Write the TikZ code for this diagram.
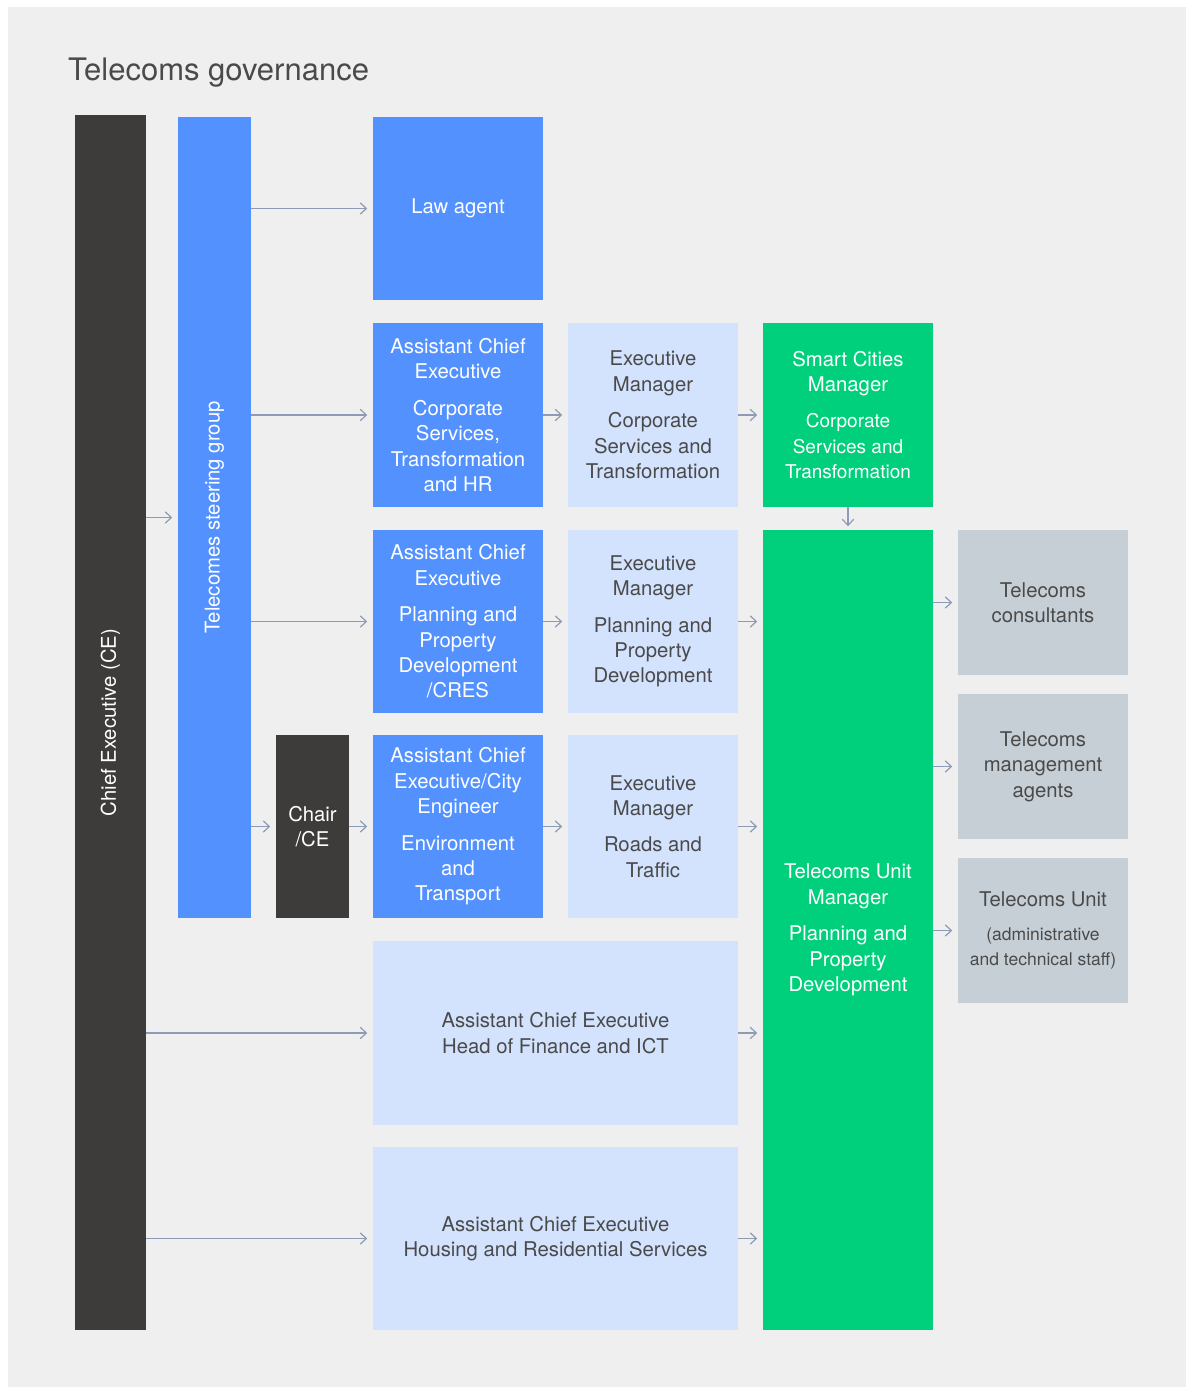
\documentclass[tikz,border=0pt]{standalone}
\usepackage{fontspec}
\setmainfont{TeX Gyre Heros}
\usetikzlibrary{arrows.meta}

\definecolor{pagebg}{HTML}{EFEFEF}
\definecolor{ink}{HTML}{3D3C3A}
\definecolor{accblue}{HTML}{5391FF}
\definecolor{paleblue}{HTML}{D3E2FD}
\definecolor{accgreen}{HTML}{00D07B}
\definecolor{stone}{HTML}{C7CFD6}
\definecolor{wire}{HTML}{8E9BB4}
\definecolor{txt}{HTML}{4A4A4A}

\tikzset{
  panel/.style={draw=none, inner sep=0pt, outer sep=0pt, align=center,
    font=\fontsize{20.3}{25.4}\selectfont},
  darkbox/.style={panel, fill=ink, text=white},
  bluebox/.style={panel, fill=accblue, text=white},
  palebox/.style={panel, fill=paleblue, text=txt},
  greenbox/.style={panel, fill=accgreen, text=white},
  stonebox/.style={panel, fill=stone, text=txt},
  sidetext/.style={rotate=90, inner sep=0pt, font=\fontsize{20.3}{25.4}\selectfont, text=white},
  conn/.style={draw=wire, line width=1.2pt, shorten >=6pt,
    -{Straight Barb[length=6pt,width=11pt,line join=round,line cap=round]}},
}

\newcommand{\smalltxt}[1]{{\fontsize{19}{24}\selectfont #1}}
\newcommand{\tinytxt}[1]{{\fontsize{17.5}{23}\selectfont #1}}

\begin{document}
\begin{tikzpicture}[x=1pt,y=-1pt]
  % canvas
  \useasboundingbox (0,0) rectangle (1186,1387);
  \fill[white] (0,0) rectangle (1186,1387);
  \fill[pagebg] (8,7) rectangle (1186,1387);

  % heading
  \node[anchor=base west, inner sep=0pt, text=txt, font=\fontsize{31}{36}\selectfont]
    (title) at (68,80) {Telecoms governance};

  % vertical bars
  \node[darkbox, minimum width=71, minimum height=1215] (ce) at (110.5,722.5) {};
  \node[sidetext] (ce-text) at (ce.center) {Chief Executive (CE)};
  \node[bluebox, minimum width=73, minimum height=801] (sg) at (214.5,517.5) {};
  \node[sidetext] (sg-text) at (sg.center) {Telecomes steering group};

  % first column
  \node[bluebox, minimum width=170, minimum height=183] (law) at (458,208.5) {Law agent};
  \node[bluebox, minimum width=170, minimum height=184] (ace1) at (458,415)
    {Assistant Chief\\Executive\\[11pt]Corporate\\Services,\\Transformation\\and HR};
  \node[bluebox, minimum width=170, minimum height=183] (ace2) at (458,621.5)
    {Assistant Chief\\Executive\\[11pt]Planning and\\Property\\Development\\/CRES};
  \node[darkbox, minimum width=73, minimum height=183] (chair) at (312.5,826.5) {Chair\\/CE};
  \node[bluebox, minimum width=170, minimum height=183] (ace3) at (458,826.5)
    {Assistant Chief\\Executive/City\\Engineer\\[11pt]Environment\\and\\Transport};

  % second column
  \node[palebox, minimum width=170, minimum height=184] (em1) at (653,415)
    {Executive\\Manager\\[11pt]Corporate\\Services and\\Transformation};
  \node[palebox, minimum width=170, minimum height=183] (em2) at (653,621.5)
    {Executive\\Manager\\[11pt]Planning and\\Property\\Development};
  \node[palebox, minimum width=170, minimum height=183] (em3) at (653,826.5)
    {Executive\\Manager\\[11pt]Roads and\\Traffic};
  \node[palebox, minimum width=365, minimum height=184] (fin) at (555.5,1033)
    {Assistant Chief Executive\\Head of Finance and ICT};
  \node[palebox, minimum width=365, minimum height=183] (hou) at (555.5,1238.5)
    {Assistant Chief Executive\\Housing and Residential Services};

  % green column
  \node[greenbox, minimum width=170, minimum height=184] (sc) at (848,415)
    {Smart Cities\\Manager\\[11pt]\smalltxt{Corporate}\\\smalltxt{Services and}\\\smalltxt{Transformation}};
  \node[greenbox, minimum width=170, minimum height=800] (tum) at (848,930)
    {Telecoms Unit\\Manager\\[11pt]Planning and\\Property\\Development};

  % grey column
  \node[stonebox, minimum width=170, minimum height=145] (cons) at (1043,602.5)
    {Telecoms\\consultants};
  \node[stonebox, minimum width=170, minimum height=145] (mgmt) at (1043,766.5)
    {Telecoms\\management\\agents};
  \node[stonebox, minimum width=170, minimum height=145] (unit) at (1043,930.5)
    {Telecoms Unit\\[9pt]\tinytxt{(administrative}\\\tinytxt{and technical staff)}};

  % connectors from the chief executive
  \draw[conn] (ce.east |- sg.west) -- (sg.west);
  \draw[conn] (ce.east |- fin.west) -- (fin.west);
  \draw[conn] (ce.east |- hou.west) -- (hou.west);

  % connectors from the steering group
  \draw[conn] (sg.east |- law.west) -- (law.west);
  \draw[conn] (sg.east |- ace1.west) -- (ace1.west);
  \draw[conn] (sg.east |- ace2.west) -- (ace2.west);
  \draw[conn] (sg.east |- chair.west) -- (chair.west);
  \draw[conn] (chair.east) -- (ace3.west);

  % assistant chief executives to executive managers
  \draw[conn] (ace1.east) -- (em1.west);
  \draw[conn] (ace2.east) -- (em2.west);
  \draw[conn] (ace3.east) -- (em3.west);

  % into the green column
  \draw[conn] (em1.east) -- (sc.west);
  \draw[conn] (em2.east) -- (em2.east -| tum.west);
  \draw[conn] (em3.east) -- (em3.east -| tum.west);
  \draw[conn] (fin.east) -- (fin.east -| tum.west);
  \draw[conn] (hou.east) -- (hou.east -| tum.west);
  \draw[conn, shorten >=4pt] (sc.south) -- (sc.south |- tum.north);

  % out to the grey column
  \draw[conn] (tum.east |- cons.west) -- (cons.west);
  \draw[conn] (tum.east |- mgmt.west) -- (mgmt.west);
  \draw[conn] (tum.east |- unit.west) -- (unit.west);
\end{tikzpicture}
\end{document}
